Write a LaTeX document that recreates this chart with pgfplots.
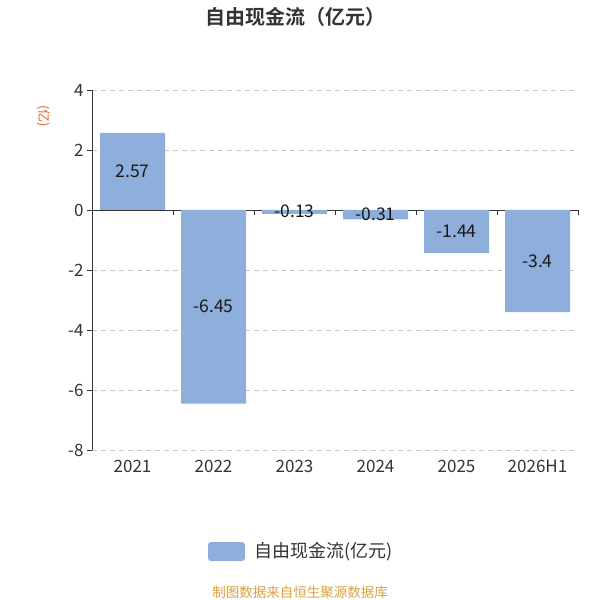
\documentclass[border=0pt]{standalone}
\usepackage{pgfplots}
\pgfplotsset{compat=1.18}
\usepackage{fontspec}
\setmainfont{Noto Sans CJK SC}[BoldFont={Noto Sans CJK SC Bold}]
\definecolor{barc}{HTML}{8EAEDB}
\definecolor{txt}{HTML}{333333}
\definecolor{axc}{HTML}{333333}
\definecolor{ylab}{HTML}{E0632C}
\definecolor{foot}{HTML}{D9A040}
\begin{document}
\begin{tikzpicture}
\useasboundingbox (0,0) rectangle (600bp,-600bp);
\begin{axis}[
  at={(92bp,-450bp)}, anchor=south west,
  scale only axis, width=486bp, height=360bp,
  xmin=-0.5, xmax=5.5, ymin=-8, ymax=4,
  axis x line*=middle, axis y line*=left,
  axis line style={-, axc, line width=0.9bp},
  xtick={-0.5,0.5,1.5,2.5,3.5,4.5,5.5}, xticklabels={},
  ytick={-8,-6,-4,-2,0,2,4},
  tick align=outside,
  major tick length=5bp,
  tick style={axc, line width=0.9bp},
  ymajorgrids, grid style={dash pattern=on 5bp off 4bp, black!22, line width=0.8bp},
  /pgf/number format/assume math mode=true,
  yticklabel style={font=\fontsize{17bp}{20bp}\selectfont, text=txt},
  clip=false,
]
\addplot[ybar, bar width=65bp, fill=barc, draw=none] coordinates {
  (0,2.57) (1,-6.45) (2,-0.13) (3,-0.31) (4,-1.44) (5,-3.4)
};
\addplot[only marks, mark size=0pt, mark options={draw=none,fill=none},
  nodes near coords, point meta=explicit symbolic,
  nodes near coords align=center,
  every node near coord/.style={font=\fontsize{17.5bp}{20bp}\selectfont, text=black!90, anchor=center}]
  coordinates {
  (0,1.285)[2.57] (1,-3.225)[-6.45] (2,-0.03)[-0.13] (3,-0.155)[-0.31] (4,-0.72)[-1.44] (5,-1.7)[-3.4]
};
\node[font=\fontsize{17bp}{20bp}\selectfont, text=txt, anchor=north] at (axis cs:0,-8) [yshift=-7bp] {2021};
\node[font=\fontsize{17bp}{20bp}\selectfont, text=txt, anchor=north] at (axis cs:1,-8) [yshift=-7bp] {2022};
\node[font=\fontsize{17bp}{20bp}\selectfont, text=txt, anchor=north] at (axis cs:2,-8) [yshift=-7bp] {2023};
\node[font=\fontsize{17bp}{20bp}\selectfont, text=txt, anchor=north] at (axis cs:3,-8) [yshift=-7bp] {2024};
\node[font=\fontsize{17bp}{20bp}\selectfont, text=txt, anchor=north] at (axis cs:4,-8) [yshift=-7bp] {2025};
\node[font=\fontsize{17bp}{20bp}\selectfont, text=txt, anchor=north] at (axis cs:5,-8) [yshift=-7bp] {2026H1};
\end{axis}
\node[font=\bfseries\fontsize{20bp}{24bp}\selectfont, text=txt] at (295bp,-17bp) {自由现金流（亿元）};
\node[rotate=-90, font=\fontsize{13bp}{15bp}\selectfont, text=ylab] at (44bp,-116bp) {(亿)};
\fill[barc, rounded corners=3bp] (208bp,-542bp) rectangle (245bp,-561bp);
\node[anchor=west, font=\fontsize{18bp}{21bp}\selectfont, text=txt, inner sep=0pt] at (254bp,-551.5bp) {自由现金流(亿元)};
\node[font=\fontsize{13.5bp}{16bp}\selectfont, text=foot] at (300bp,-592bp) {制图数据来自恒生聚源数据库};
\end{tikzpicture}
\end{document}
